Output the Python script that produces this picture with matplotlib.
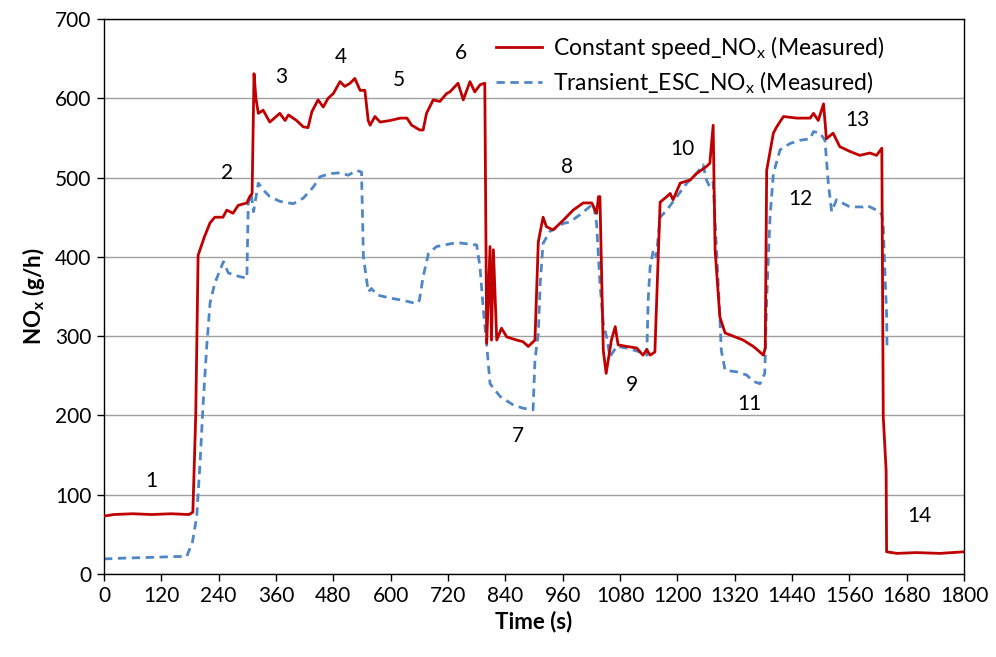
import matplotlib
matplotlib.use("Agg")
import matplotlib.pyplot as plt

plt.rcParams['font.family'] = ['Lato', 'DejaVu Sans']

# Constant speed NOx (Measured)
cs_time = [0, 20, 60, 100, 140, 178, 186, 192, 197, 210, 222, 232, 249, 257, 270, 281, 299, 305, 310,
           314, 318, 323, 333, 347, 368, 379, 386, 403, 417, 427, 435, 448, 459, 469, 480, 494, 504,
           515, 525, 536, 546, 553, 557, 567, 578, 599, 620, 634, 644, 661, 668, 675, 689, 703, 717,
           724, 741, 752, 766, 776, 787, 797, 801, 808, 811, 815, 822, 832, 843, 864, 877, 888, 902,
           909, 919, 926, 940, 961, 982, 1003, 1021, 1031, 1035, 1038, 1045, 1051, 1062, 1070, 1076,
           1094, 1115, 1128, 1136, 1143, 1153, 1164, 1178, 1185, 1191, 1206, 1227, 1240, 1261, 1268,
           1275, 1279, 1289, 1300, 1317, 1338, 1359, 1369, 1380, 1384, 1387, 1401, 1408, 1422, 1450,
           1478, 1485, 1495, 1506, 1512, 1526, 1540, 1554, 1561, 1582, 1603, 1617, 1628, 1631, 1637,
           1638, 1660, 1700, 1750, 1800]
cs_nox = [73, 75, 76, 75, 76, 75, 78, 200, 402, 425, 443, 450, 450, 459, 455, 465, 468, 476, 480,
          631, 600, 581, 585, 570, 581, 572, 579, 572, 564, 563, 583, 598, 589, 600, 606, 621, 615,
          619, 625, 610, 610, 572, 566, 577, 570, 572, 575, 575, 566, 560, 560, 581, 598, 596, 606,
          608, 619, 598, 621, 608, 617, 619, 291, 413, 295, 409, 295, 310, 299, 295, 293, 287, 295,
          419, 450, 438, 434, 446, 459, 468, 468, 455, 476, 476, 282, 253, 295, 312, 289,
          287, 285, 276, 283, 276, 280, 469, 476, 480, 472, 493, 497, 505, 514, 518,
          566, 409, 324, 304, 300, 295, 287, 282, 276, 285, 509, 556, 564, 577, 575,
          575, 581, 572, 593, 549, 556, 539, 535, 533, 528, 531, 528, 537, 198, 131,
          28, 26, 27, 26, 28]

# Transient ESC NOx (Measured)
tr_time = [0, 40, 100, 150, 173, 185, 194, 201, 208, 215, 222, 232, 250, 260, 271, 299, 302, 308,
           313, 323, 334, 347, 368, 396, 417, 438, 452, 473, 494, 511, 529, 539, 543, 553, 560, 571,
           599, 627, 654, 660, 668, 679, 696, 738, 780, 787, 794, 801, 808, 829, 857, 878, 898, 902,
           909, 913, 919, 933, 961, 975, 996, 1024, 1031, 1038, 1045, 1052, 1059, 1073, 1094, 1122,
           1136, 1139, 1143, 1150, 1156, 1164, 1178, 1199, 1220, 1240, 1254, 1261, 1268, 1275, 1289,
           1292, 1300, 1324, 1345, 1359, 1373, 1383, 1387, 1394, 1401, 1415, 1436, 1457, 1478, 1485,
           1499, 1509, 1516, 1523, 1533, 1561, 1589, 1596, 1624, 1628, 1631, 1635, 1638, 1639]
tr_nox = [19, 20, 21, 22, 22, 40, 72, 140, 220, 287, 342, 367, 394, 380, 377, 373, 468, 480,
          457, 493, 484, 476, 470, 467, 474, 488, 501, 505, 506, 503, 509, 507, 400, 356, 360, 352,
          348, 345, 341, 345, 375, 404, 413, 418, 415, 387, 333, 289, 240, 224, 213, 209, 207, 270,
          303, 367, 417, 432, 442, 444, 453, 467, 442, 367, 316, 299, 274, 287, 285, 280,
          276, 346, 387, 409, 400, 450, 459, 476, 493, 505, 516, 497, 488, 494, 324,
          282, 257, 255, 251, 243, 240, 253, 346, 450, 505, 535, 543, 547, 549, 558,
          556, 547, 493, 457, 472, 463, 463, 465, 457, 453, 438, 371, 329, 282]

# Operating-mode labels
mode_labels = ['1', '2', '3', '4', '5', '6', '7', '8', '9', '10', '11', '12', '13', '14']
mode_x = [100, 257, 370, 496, 617, 747, 866, 969, 1105, 1210, 1350, 1457, 1576, 1706]
mode_y = [117, 506, 627, 652, 623, 657, 174, 513, 238, 536, 214, 473, 572, 73]

x_ticks = list(range(0, 1801, 120))
y_ticks = list(range(0, 701, 100))

fig = plt.figure(figsize=(9.96, 6.57), dpi=100)
ax = fig.add_axes([104/996, 1-574/657, (964-104)/996, (574-19)/657])

ax.plot(cs_time, cs_nox, color='#C00000', lw=2.0,
        label='Constant speed_NO$_\\mathregular{x}$ (Measured)', zorder=3)
ax.plot(tr_time, tr_nox, color='#4F86C6', lw=2.0, linestyle=(0, (3, 2)),
        label='Transient_ESC_NO$_\\mathregular{x}$ (Measured)', zorder=2)

for lab, xx, yy in zip(mode_labels, mode_x, mode_y):
    ax.text(xx, yy, lab, fontsize=15, ha='center', va='center', color='black')

ax.set_xlim(0, 1800)
ax.set_ylim(0, 700)
ax.set_xticks(x_ticks)
ax.set_yticks(y_ticks)
ax.tick_params(axis='both', labelsize=15, direction='out', length=5, width=1, colors='black',
               pad=4)
ax.yaxis.grid(True, color='#A0A0A0', lw=1)
ax.set_axisbelow(True)
for s in ax.spines.values():
    s.set_color('black')
    s.set_linewidth(1)

ax.set_xlabel('Time (s)', fontsize=16, fontweight='bold', labelpad=3)
ax.set_ylabel('NO$_\\mathregular{x}$ (g/h)', fontsize=16, fontweight='bold', labelpad=6)

leg = ax.legend(loc='upper left', bbox_to_anchor=(0.432, 1.01), frameon=False, fontsize=16.5,
                handlelength=2.0, handletextpad=0.5, labelspacing=0.35)

fig.savefig('out.png', dpi=100)
